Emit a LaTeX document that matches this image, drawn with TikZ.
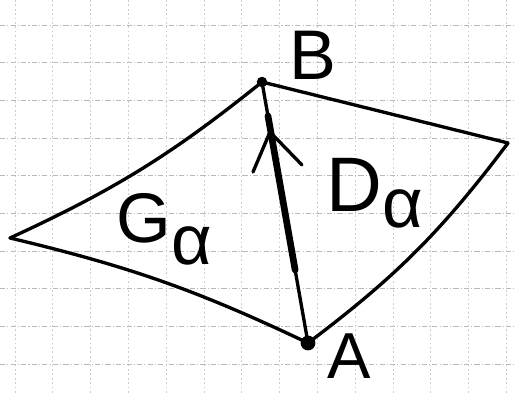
\documentclass[tikz,border=0pt]{standalone}
\usepackage{fontspec}
\setmainfont{Liberation Sans}
\usetikzlibrary{calc}
\begin{document}
\begin{tikzpicture}[x=0.02cm,y=-0.02cm,
  hgrid/.style={gray!55,line width=0.5pt,dash pattern=on 3pt off 1.2pt on 0.6pt off 1.2pt},
  vgrid/.style={gray!40,line width=0.5pt,dash pattern=on 1pt off 1.5pt},
  edge/.style={line width=1.9pt,line cap=round,line join=round},
  thickedge/.style={line width=3.8pt,line cap=round},
  lbl/.style={inner sep=0pt,font=\fontsize{40}{40}\selectfont}]
\useasboundingbox (0,0) rectangle (516,394);
% graph paper
\foreach \yy in {25,62.7,100.4,138.1,175.8,213.5,251.2,288.9,326.6,364.3}
  \draw[hgrid] (0,\yy) -- (516,\yy);
\foreach \xx in {15,52.8,90.6,128.4,166.2,204,241.8,279.6,317.4,355.2,393,430.8,468.6,506.4}
  \draw[vgrid] (\xx,0) -- (\xx,394);
% points
\coordinate (B) at (262,82);
\coordinate (A) at (308,343);
\coordinate (L) at (10,238);
\coordinate (R) at (508,143);
% edges
\draw[edge] (L) to[bend right=7] (B);
\draw[edge] (B) -- (R);
\draw[edge] (R) to[bend left=8] (A);
\draw[edge] (L) to[bend left=6] (A);
\draw[edge] (B) -- (A);
\draw[thickedge] ($(B)!0.13!(A)$) -- ($(B)!0.72!(A)$);
% arrow chevron
\coordinate (c1) at (253,172);
\coordinate (c0) at (270,132);
\coordinate (c2) at (302,165);
\draw[edge] (c1) -- (c0) -- (c2);
% dots
\fill (B) circle (3pt);
\fill (A) circle (4.2pt);
% labels
\node[lbl,anchor=base] (lB) at (313,80) {B};
\node[lbl,anchor=base,font=\fontsize{37}{37}\selectfont] (lA) at (349,378) {A};
\node[lbl,anchor=base west] (lG) at (116,243) {G\raisebox{-12pt}{α}};
\node[lbl,anchor=base west,font=\fontsize{44}{44}\selectfont] (lD) at (326,212) {D\raisebox{-9pt}{\fontsize{40}{40}\selectfont α}};
\end{tikzpicture}
\end{document}
